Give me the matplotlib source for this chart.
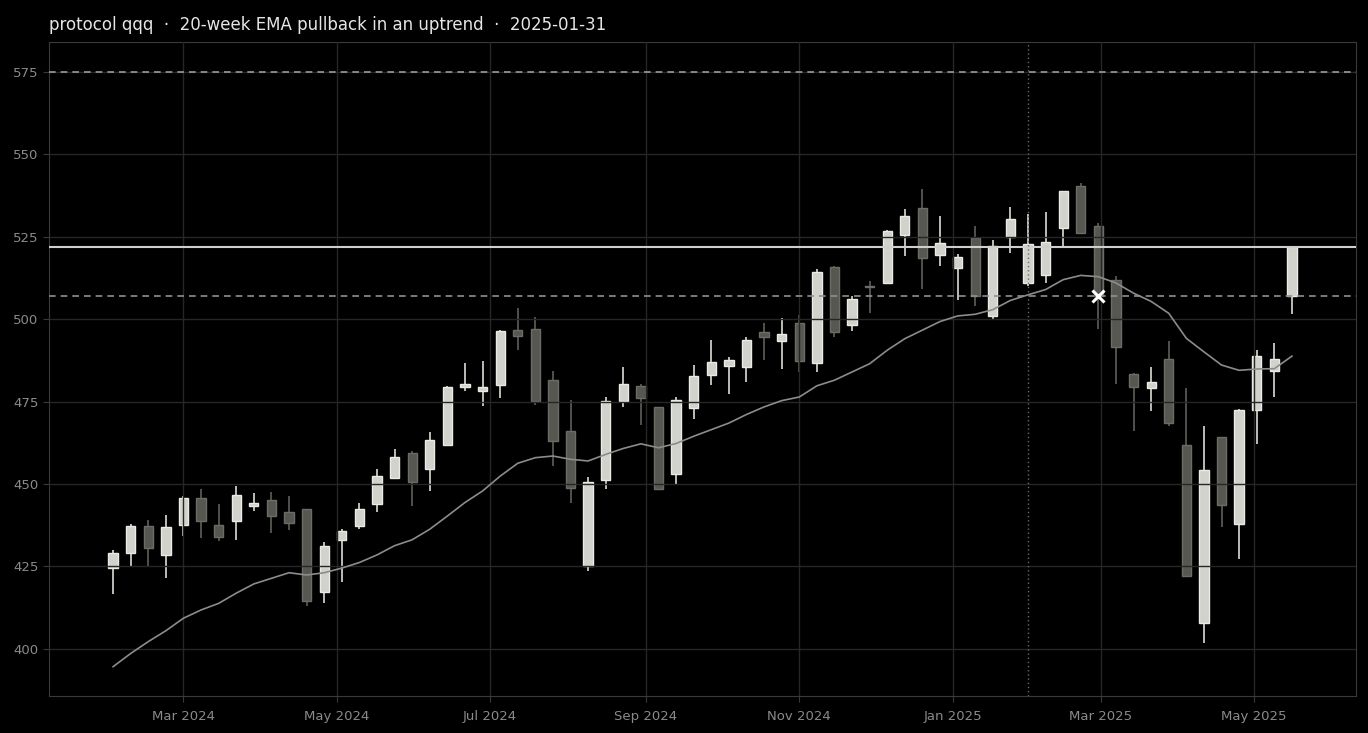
import matplotlib
matplotlib.use('Agg')
import matplotlib.pyplot as plt
import matplotlib.dates as mdates
import numpy as np
import pandas as pd


# weekly bars, Fridays
dates = pd.date_range('2024-02-02', periods=68, freq='7D')

opens = [424.4, 429.1, 437.4, 428.5, 437.6, 445.8, 437.6, 438.8, 443.3, 445.2,
         441.5, 442.4, 417.3, 433.1, 437.3, 444.0, 451.9, 459.5, 454.6, 461.9,
         479.3, 478.1, 479.9, 496.7, 497.0, 481.6, 466.1, 425.0, 451.2, 475.1,
         479.7, 473.4, 453.1, 473.1, 483.1, 485.8, 485.5, 496.1, 493.3, 498.8,
         486.6, 515.9, 498.2, 510.2, 511.0, 525.7, 533.7, 519.6, 515.5, 524.5,
         501.1, 524.8, 511.0, 513.5, 527.6, 540.4, 528.3, 512.0, 483.5, 479.2,
         487.8, 461.9, 407.8, 464.2, 437.8, 472.6, 484.3, 506.9]
highs = [429.9, 437.9, 439.1, 440.6, 446.3, 448.5, 443.9, 449.3, 447.3, 447.6,
         446.4, 442.5, 432.3, 436.4, 444.3, 454.7, 460.7, 460.0, 465.9, 479.6,
         486.7, 487.2, 496.8, 503.3, 500.8, 484.2, 475.5, 452.2, 476.4, 485.5,
         480.3, 473.5, 476.4, 486.1, 493.6, 488.5, 494.6, 498.8, 500.3, 501.2,
         515.1, 516.0, 506.9, 511.5, 527.0, 533.3, 539.4, 531.4, 519.9, 528.2,
         524.1, 534.0, 531.9, 532.5, 538.9, 541.2, 529.3, 513.0, 483.7, 485.5,
         493.5, 479.2, 467.5, 464.4, 472.8, 490.8, 492.7, 521.8]
lows = [416.7, 425.0, 425.1, 421.5, 434.3, 433.7, 432.7, 433.1, 441.9, 435.2,
        436.1, 413.0, 413.9, 420.4, 436.4, 441.6, 451.9, 443.3, 448.0, 461.5,
        478.1, 473.7, 476.1, 490.6, 474.0, 455.5, 444.4, 423.5, 448.6, 473.4,
        467.9, 448.4, 449.8, 469.8, 480.0, 477.3, 480.9, 487.6, 484.9, 483.9,
        484.0, 494.7, 496.3, 501.8, 510.7, 519.3, 509.3, 516.1, 505.9, 503.9,
        499.7, 520.2, 510.0, 511.0, 522.1, 526.0, 496.9, 480.5, 466.2, 472.3,
        467.7, 422.2, 401.7, 437.1, 427.4, 462.2, 476.4, 501.5]
closes = [429.0, 437.4, 430.6, 437.0, 445.8, 438.8, 433.9, 446.7, 444.3, 440.3,
          438.2, 414.5, 431.2, 435.8, 442.4, 452.3, 458.3, 450.7, 463.4, 479.4,
          480.3, 479.4, 496.4, 494.9, 475.1, 463.0, 448.9, 450.6, 475.1, 480.3,
          476.1, 448.6, 475.5, 482.8, 487.0, 487.6, 493.6, 494.6, 495.5, 487.3,
          514.4, 496.2, 506.1, 509.9, 526.8, 531.2, 518.7, 523.0, 519.0, 507.1,
          522.2, 530.3, 522.7, 523.3, 538.9, 526.3, 507.0, 491.6, 479.4, 481.1,
          468.5, 422.2, 454.2, 443.6, 472.5, 488.9, 488.0, 521.8]

ema20 = [394.6, 398.6, 402.2, 405.5, 409.3, 411.8, 413.8, 416.9, 419.7, 421.4,
         423.1, 422.4, 423.1, 424.5, 426.2, 428.5, 431.3, 433.1, 436.3, 440.3,
         444.4, 447.9, 452.4, 456.3, 458.0, 458.5, 457.5, 457.0, 459.0, 460.8,
         462.2, 461.0, 462.3, 464.5, 466.5, 468.5, 471.1, 473.4, 475.3, 476.4,
         479.8, 481.5, 484.0, 486.5, 490.6, 494.1, 496.7, 499.3, 501.0, 501.5,
         502.9, 505.7, 507.4, 509.0, 512.0, 513.3, 512.9, 511.0, 507.9, 505.4,
         501.8, 494.2, 490.1, 486.1, 484.5, 484.9, 485.0, 488.8]

signal_date = '2025-01-31'
entry = 522.0
stop = 507.0
target = 575.0
stop_hit_date = '2025-02-28'

UP_FACE, UP_EDGE, UP_WICK = '#d2d2cc', '#ebebe5', '#dcdcd6'
DN_FACE, DN_EDGE, DN_WICK = '#575752', '#6c6c67', '#5e5e59'


def main():

    fig = plt.figure(figsize=(13.68, 7.33), dpi=100, facecolor='black')
    ax = fig.add_axes([49 / 1368, 37 / 733, 1307 / 1368, 654 / 733])
    ax.set_facecolor('black')

    o = np.array(opens)
    c = np.array(closes)
    lo = np.array(lows)
    hi = np.array(highs)
    up = c >= o
    x = mdates.date2num(dates)

    ax.vlines(x[up], lo[up], hi[up], color=UP_WICK, linewidth=1.2, zorder=2)
    ax.vlines(x[~up], lo[~up], hi[~up], color=DN_WICK, linewidth=1.2, zorder=2)

    bottoms = np.minimum(o, c)
    heights = np.maximum(np.abs(c - o), 0.3)
    ax.bar(x[up], heights[up], bottom=bottoms[up], width=3.7,
           color=UP_FACE, edgecolor=UP_EDGE, linewidth=1.0, zorder=2)
    ax.bar(x[~up], heights[~up], bottom=bottoms[~up], width=3.7,
           color=DN_FACE, edgecolor=DN_EDGE, linewidth=1.0, zorder=2)

    ax.plot(x, ema20, color='#8c8c8c', linewidth=1.2, zorder=3)

    ax.axhline(entry, color='#cfcfcf', linewidth=1.5, zorder=3)
    ax.axhline(stop, color='#8f8f8f', linewidth=1.2, linestyle=(0, (4, 3)), zorder=3)
    ax.axhline(target, color='#9a9a9a', linewidth=1.2, linestyle=(0, (4, 3)), zorder=3)
    ax.axvline(mdates.datestr2num(signal_date), color='#6a6a6a', linewidth=1.0,
               linestyle=(0, (1, 2)), zorder=3)
    ax.plot(mdates.datestr2num(stop_hit_date), stop, marker='x', color='white',
            markersize=9, markeredgewidth=2.2, zorder=5)

    ax.set_xlim(mdates.datestr2num('2024-01-07') + 0.5,
                mdates.datestr2num('2025-06-10') + 0.5)
    ax.set_ylim(385.7, 584.1)
    ax.set_yticks([400, 425, 450, 475, 500, 525, 550, 575])
    ax.xaxis.set_major_locator(mdates.MonthLocator(bymonth=[1, 3, 5, 7, 9, 11]))
    ax.xaxis.set_major_formatter(mdates.DateFormatter('%b %Y'))

    ax.set_axisbelow(False)
    ax.grid(True, color='#262626', linewidth=1.0, zorder=2.5)
    for s in ax.spines.values():
        s.set_color('#3a3a3a')
    ax.tick_params(colors='#3a3a3a', labelcolor='#8a8a8a', labelsize=9.5, length=4)
    ax.tick_params(axis='x', pad=6)

    ax.set_title('protocol qqq  \u00b7  20-week EMA pullback in an uptrend  \u00b7  2025-01-31',
                 loc='left', color='#e6e6e6', fontsize=12, pad=9)

    fig.savefig('out.png', dpi=100, facecolor='black')


if __name__ == '__main__':
    main()
